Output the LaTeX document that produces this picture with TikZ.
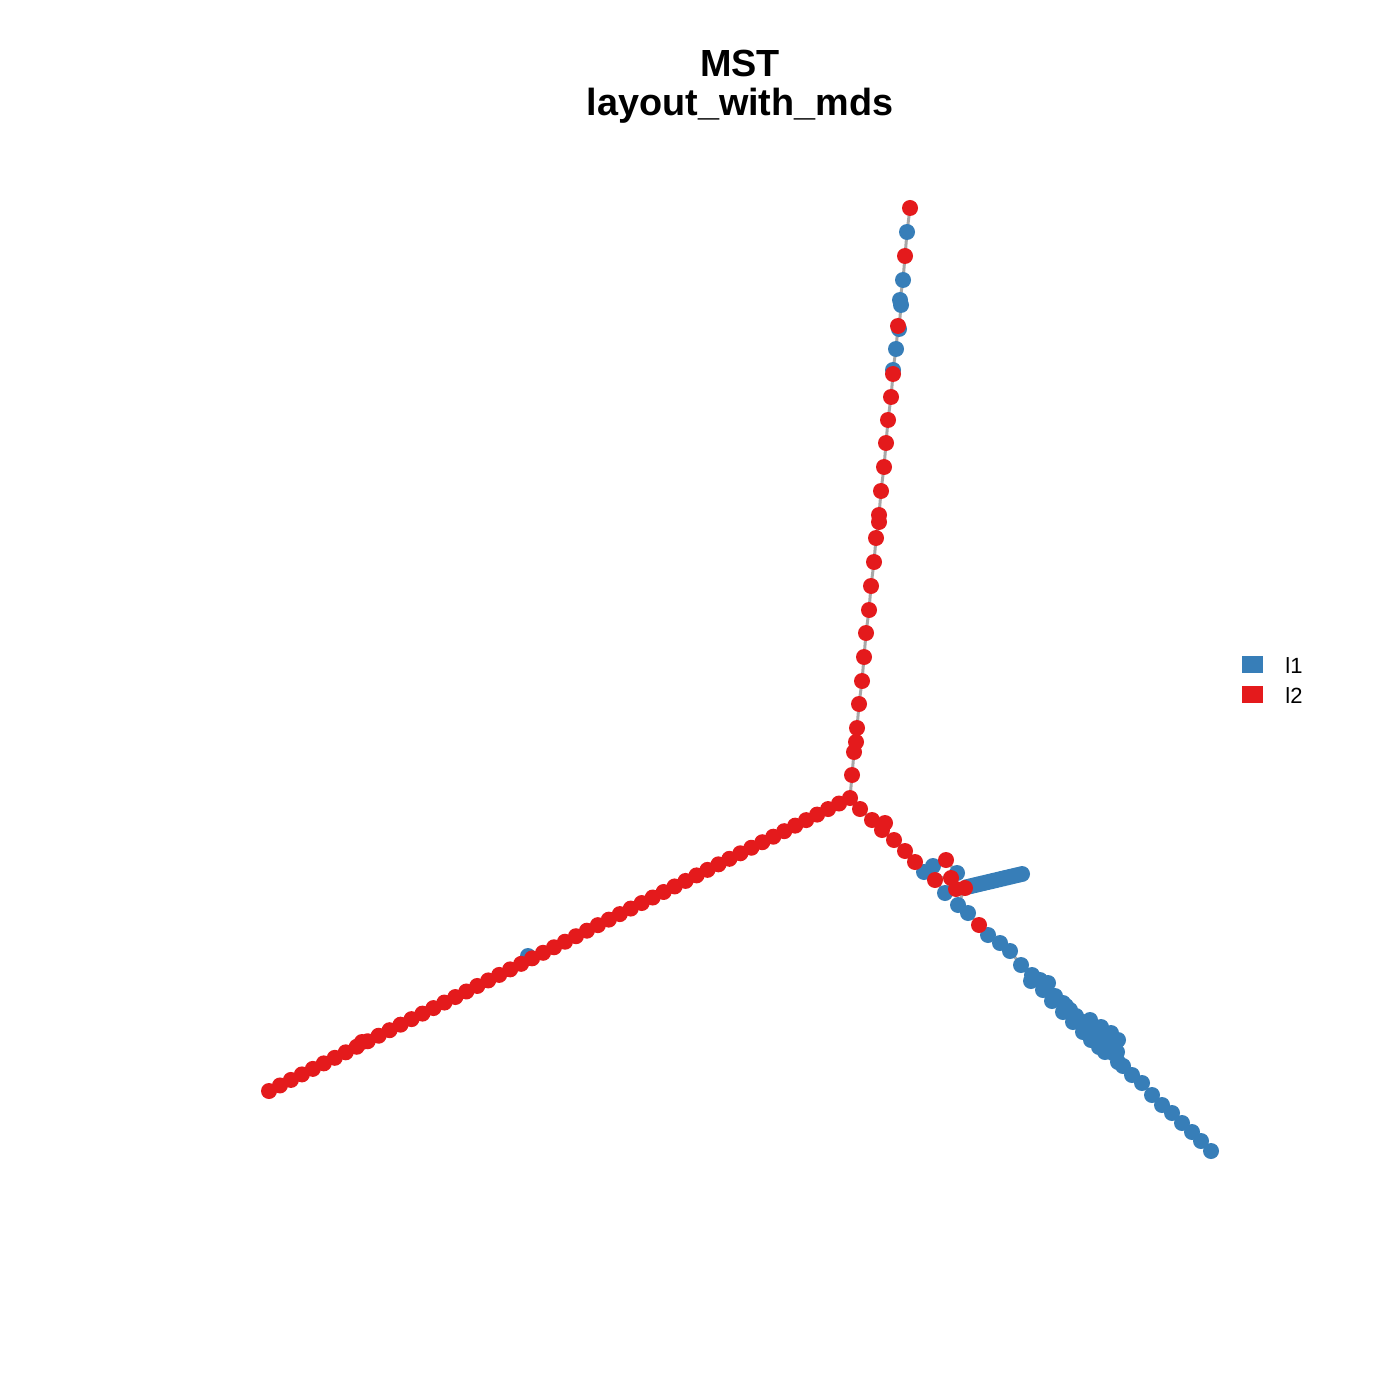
\documentclass[tikz,border=0pt]{standalone}
\usepackage{fontspec}
\setmainfont{Liberation Sans}
\definecolor{cb}{HTML}{377EB8}
\definecolor{cr}{HTML}{E41A1C}
\definecolor{edgegray}{HTML}{A8A8A8}
\pgfdeclarelayer{bdot}
\pgfdeclarelayer{rdot}
\pgfsetlayers{main,bdot,rdot}
\begin{document}
\begin{tikzpicture}[x=0.5pt,y=-0.5pt,
  dot/.style={circle,inner sep=0pt,minimum size=8pt,draw=none},
  bdot/.style={dot,fill=cb},
  rdot/.style={dot,fill=cr},
  edgeline/.style={draw=edgegray,line width=1.5pt},
  ttl/.style={font=\fontsize{18.9}{22}\selectfont\bfseries,anchor=base,inner sep=0pt},
  legtext/.style={font=\fontsize{11}{13}\selectfont,anchor=base west,inner sep=0pt},
  legbox/.style={minimum width=10.5pt,minimum height=8.5pt,inner sep=0pt,draw=none}]
\useasboundingbox[fill=white] (0,0) rectangle (1400,1400);

% title
\node[ttl] (title1) at (740,77) {MST};
\node[ttl] (title2) at (740,116) {layout\_with\_mds};

% top branch (t1 top ... t31 junction)
\foreach \x/\y/\c [count=\i] in {
  910/208/rdot, 907/232/bdot, 905/256/rdot, 903/280/bdot, 900/300/bdot,
  901/305/bdot, 899/329/bdot, 898/326/rdot, 896/349/bdot, 893/370/bdot,
  893/374/rdot, 891/397/rdot, 888/420/rdot, 886/443/rdot, 884/467/rdot,
  881/491/rdot, 879/515/rdot, 879/522/rdot, 876/538/rdot, 874/562/rdot,
  871/586/rdot, 869/610/rdot, 866/633/rdot, 864/657/rdot, 862/681/rdot,
  859/704/rdot, 857/728/rdot, 856/742/rdot, 854/752/rdot, 852/775/rdot,
  850/798/rdot}{
  \begin{pgfonlayer}{\c}
    \node[\c] (t\i) at (\x,\y) {};
  \end{pgfonlayer}
}
\foreach \i [remember=\i as \j (initially 1)] in {2,...,31}
  \draw[edgeline] (t\j.center) -- (t\i.center);

% left branch
\foreach \i in {1,...,53}{
  \pgfmathsetmacro\xx{850-\i*(581/53)}
  \pgfmathsetmacro\yy{798+\i*(293/53)}
  \begin{pgfonlayer}{rdot}
    \node[rdot] (l\i) at (\xx,\yy) {};
  \end{pgfonlayer}
}
\begin{pgfonlayer}{bdot}
  \node[bdot] (lb) at (528,956) {};
\end{pgfonlayer}
\begin{pgfonlayer}{rdot}
  \node[rdot] (lx) at (362,1042) {};
\end{pgfonlayer}
\draw[edgeline] (t31.center) -- (l1.center);
\foreach \i [remember=\i as \j (initially 1)] in {2,...,53}
  \draw[edgeline] (l\j.center) -- (l\i.center);

% right branch
\foreach \x/\y/\c [count=\i] in {
  860/809/rdot, 872/820/rdot, 885/823/rdot, 882/830/rdot, 894/840/rdot,
  905/851/rdot, 915/862/rdot, 924/872/bdot, 933/866/bdot, 946/860/rdot,
  957/873/bdot, 935/880/rdot, 945/893/bdot, 951/878/rdot, 956/889/rdot,
  965/888/rdot, 958/905/bdot, 968/913/bdot, 979/925/rdot, 988/935/bdot,
  1000/943/bdot, 1010/951/bdot, 1021/965/bdot, 1032/975/bdot, 1040/980/bdot,
  1046/987/bdot, 1055/996/bdot, 1063/1003/bdot, 1070/1010/bdot, 1076/1016/bdot,
  1083/1022/bdot, 1088/1027/bdot, 1094/1030/bdot, 1100/1034/bdot, 1106/1037/bdot,
  1112/1040/bdot, 1118/1040/bdot, 1110/1046/bdot, 1113/1053/bdot, 1117/1052/bdot,
  1118/1062/bdot, 1123/1066/bdot, 1132/1075/bdot, 1142/1083/bdot, 1152/1095/bdot,
  1162/1105/bdot, 1172/1113/bdot, 1182/1123/bdot, 1192/1132/bdot, 1201/1141/bdot,
  1211/1151/bdot}{
  \begin{pgfonlayer}{\c}
    \node[\c] (r\i) at (\x,\y) {};
  \end{pgfonlayer}
}
\draw[edgeline] (t31.center) -- (r1.center);
\foreach \i [remember=\i as \j (initially 1)] in {2,...,51}
  \draw[edgeline] (r\j.center) -- (r\i.center);

% extra dots thickening the lower-right cluster
\foreach \x/\y [count=\i] in {
  1031/981, 1043/990, 1052/1001, 1063/1012, 1073/1022, 1083/1032,
  1091/1040, 1099/1047, 1105/1052, 1048/983, 1090/1020, 1101/1027,
  1111/1033, 1066/1006}{
  \begin{pgfonlayer}{bdot}
    \node[bdot] (c\i) at (\x,\y) {};
  \end{pgfonlayer}
}

% side bar branch
\foreach \k in {0,...,14}{
  \pgfmathsetmacro\xx{967+\k*(55/14)}
  \pgfmathsetmacro\yy{887-\k*(13/14)}
  \begin{pgfonlayer}{bdot}
    \node[bdot] (s\k) at (\xx,\yy) {};
  \end{pgfonlayer}
}
\draw[edgeline] (r16.center) -- (s0.center);
\foreach \k [remember=\k as \j (initially 0)] in {1,...,14}
  \draw[edgeline] (s\j.center) -- (s\k.center);

% legend
\node[legbox,fill=cb] (lg1) at (1252.5,664.5) {};
\node[legbox,fill=cr] (lg2) at (1252.5,694.5) {};
\node[legtext] (lt1) at (1285,673) {l1};
\node[legtext] (lt2) at (1285,703) {l2};
\end{tikzpicture}
\end{document}
